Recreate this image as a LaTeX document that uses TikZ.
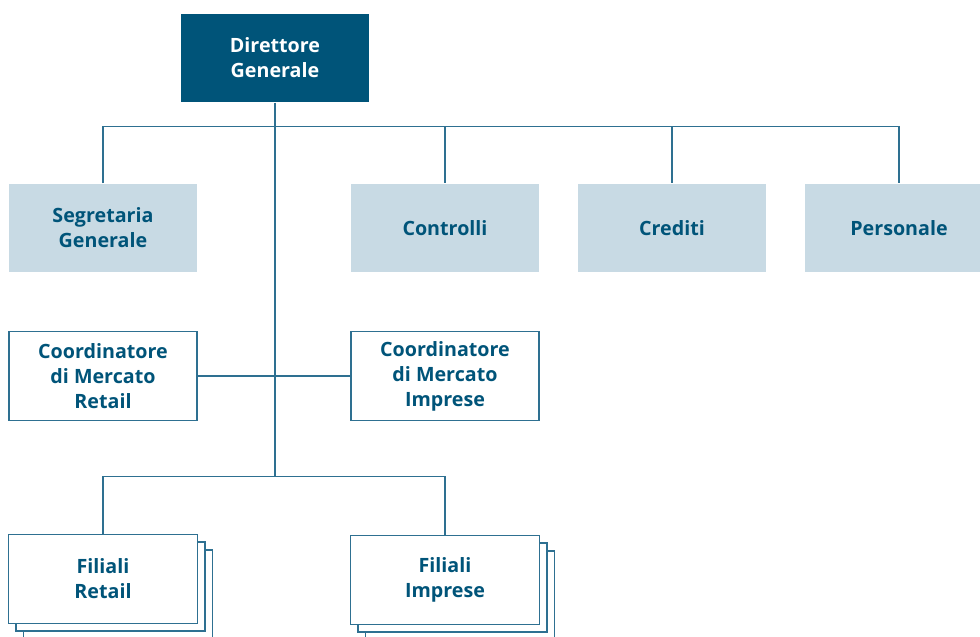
\documentclass[tikz,border=0pt]{standalone}
\usepackage{fontspec}
\setmainfont{Open Sans}
\usetikzlibrary{calc, positioning}
\definecolor{darkblue}{RGB}{0,84,121}
\definecolor{lightblue}{RGB}{200,218,228}
\definecolor{linkblue}{RGB}{46,112,145}
\def\bw{4.72cm}
\def\bh{2.22cm}
\def\stackshift{0.19cm}
\tikzset{
    box/.style = {
        rectangle, minimum width=\bw, minimum height=\bh, align=center,
        font=\bfseries\fontsize{14}{17.8}\selectfont, text=darkblue, inner sep=0pt
    },
    headbox/.style = {box, fill=darkblue, text=white},
    staffbox/.style = {box, fill=lightblue},
    linebox/.style = {box, draw=linkblue, line width=1pt, fill=white},
    link/.style = {draw=linkblue, line width=1pt},
    Stack/.pic = {
        \node [linebox] (-back2) at (2*\stackshift, -2*\stackshift) {};
        \node [linebox] (-back1) at (\stackshift, -\stackshift) {};
        \node [linebox] (-edge) at (0, 0) {#1};
    },
}
\begin{document}
\begin{tikzpicture}[x=0.025cm, y=-0.025cm]
        \useasboundingbox (0,0) rectangle (980,637);
        % Place the blocks
        \node [headbox] (dg) at (275,58) {Direttore\\Generale};
        \node [staffbox] (seg) at (103,228) {Segretaria\\Generale};
        \node [staffbox] (ctrl) at (445,228) {Controlli};
        \node [staffbox] (cred) at (672,228) {Crediti};
        \node [staffbox] (pers) at (899,228) {Personale};
        \node [linebox, minimum width=4.7cm] (cret) at (103,376) {Coordinatore\\di Mercato\\Retail};
        \node [linebox, minimum width=4.7cm] (cimp) at (445,376) {Coordinatore\\di Mercato\\Imprese};
        \draw pic (fret) at (103,579) {Stack={Filiali\\Retail}};
        \draw pic (fimp) at (445,580) {Stack={Filiali\\Imprese}};
        % Draw connections
        \begin{scope}[link]
            \draw (dg.south) -- ++(0,24) coordinate (top);
            \draw (seg.north) |- (top) -| (pers.north);
            \draw (top -| ctrl.north) -- (ctrl.north);
            \draw (top -| cred.north) -- (cred.north);
            \draw (top) -- ++(0,350) coordinate (low);
            \draw (cret.east) -- (cimp.west);
            \draw (fret-edge.north) |- (low) -| (fimp-edge.north);
        \end{scope}
\end{tikzpicture}
\end{document}
